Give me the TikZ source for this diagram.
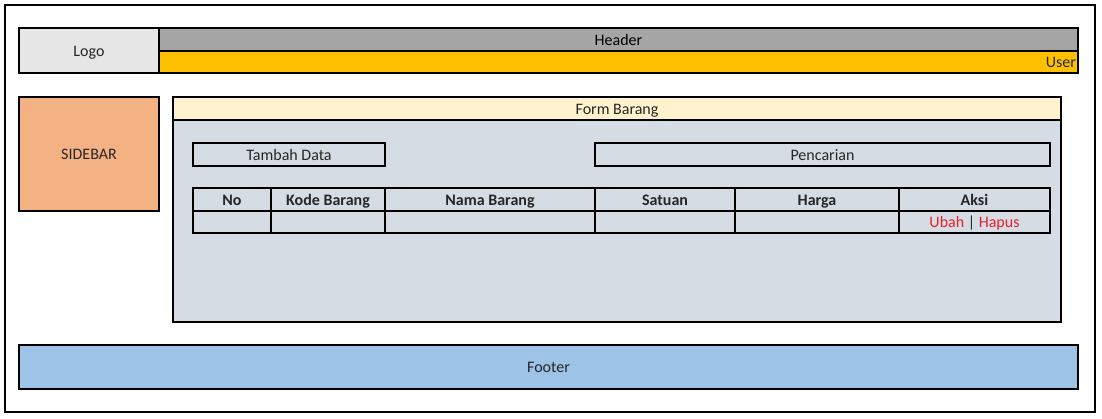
\documentclass[tikz,border=0pt]{standalone}
\usepackage{fontspec}
\setmainfont{Carlito}
\usetikzlibrary{positioning}

\definecolor{logogray}{HTML}{E7E6E6}
\definecolor{headgray}{HTML}{A5A5A5}
\definecolor{useryellow}{HTML}{FFC000}
\definecolor{sideorange}{HTML}{F4B183}
\definecolor{formcream}{HTML}{FFF2CC}
\definecolor{formblue}{HTML}{D6DCE4}
\definecolor{footblue}{HTML}{9DC3E6}
\definecolor{linkred}{HTML}{E8202A}
\definecolor{textdark}{HTML}{262626}

\begin{document}
\begin{tikzpicture}[x=0.75pt, y=-0.75pt,
    every node/.style={outer sep=0pt, inner sep=0pt, font=\fontsize{12}{14}\selectfont, text=textdark, text height=2.1ex, text depth=0.3ex},
    box/.style={draw=black, line width=1.5pt, anchor=north west},
    cell/.style={draw=black, line width=0.8pt, anchor=north west, minimum height=#1},
    cell/.default=17.25pt,
    head/.style={font=\fontsize{12}{14}\selectfont\bfseries}]
    \useasboundingbox (0,0) rectangle (1102,418);
    \draw[line width=1.5pt] (5,5) rectangle (1095,412);

    % top bar
    \node[box, fill=logogray, minimum width=105pt, minimum height=33.75pt](logo) at (19,28) {Logo};
    \node[box, fill=headgray, minimum width=689.25pt, minimum height=17.25pt, text=black](header) at (159,28) {Header};
    \node[box, fill=useryellow, minimum width=689.25pt, minimum height=16.5pt](user) at (159,51) {};
    \node[anchor=east, inner sep=1.5pt](user_label) at (user.east) {User};

    % sidebar
    \node[box, fill=sideorange, minimum width=105pt, minimum height=85.5pt](sidebar) at (19,97) {SIDEBAR};

    % form
    \node[box, fill=formblue, minimum width=666pt, minimum height=168.75pt](form) at (173,97) {};
    \node[box, fill=formcream, minimum width=666pt, minimum height=17.25pt](form_title) at (173,97) {Form Barang};
    \node[box, minimum width=144pt, minimum height=17.25pt](tambah) at (193,143) {Tambah Data};
    \node[box, minimum width=341.25pt, minimum height=17.25pt](cari) at (595,143) {Pencarian};

    % table header
    \node[cell, head, minimum width=58.5pt](col_no) at (193,188) {No};
    \node[cell, head, minimum width=85.5pt, right=0pt of col_no](col_kode) {Kode Barang};
    \node[cell, head, minimum width=157.5pt, right=0pt of col_kode](col_nama) {Nama Barang};
    \node[cell, head, minimum width=105pt, right=0pt of col_nama](col_satuan) {Satuan};
    \node[cell, head, minimum width=123pt, right=0pt of col_satuan](col_harga) {Harga};
    \node[cell, head, minimum width=113.25pt, right=0pt of col_harga](col_aksi) {Aksi};

    % table row
    \node[cell=16.5pt, minimum width=58.5pt, below=0pt of col_no](row_no) {};
    \node[cell=16.5pt, minimum width=85.5pt, right=0pt of row_no](row_kode) {};
    \node[cell=16.5pt, minimum width=157.5pt, right=0pt of row_kode](row_nama) {};
    \node[cell=16.5pt, minimum width=105pt, right=0pt of row_nama](row_satuan) {};
    \node[cell=16.5pt, minimum width=123pt, right=0pt of row_satuan](row_harga) {};
    \node[cell=16.5pt, minimum width=113.25pt, right=0pt of row_harga](row_aksi) {\textcolor{linkred}{Ubah} | \textcolor{linkred}{Hapus}};

    % footer
    \node[box, fill=footblue, minimum width=794.25pt, minimum height=33pt](footer) at (19,345) {Footer};
\end{tikzpicture}
\end{document}
